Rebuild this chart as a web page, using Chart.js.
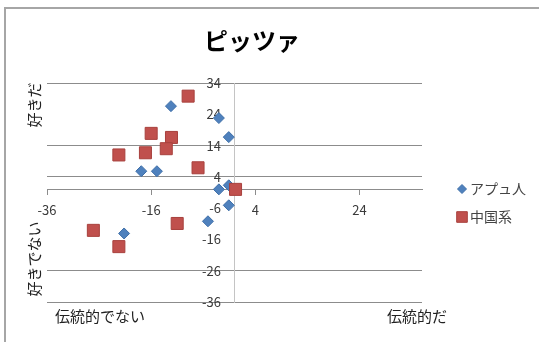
<!DOCTYPE html>
<html>
<head>
<meta charset="utf-8">
<script src="https://cdn.jsdelivr.net/npm/chart.js@4/dist/chart.umd.min.js"></script>
<style>
    html, body { margin: 0; padding: 0; background: #fff; }
    #wrap { position: relative; width: 539px; height: 342px; overflow: hidden; }
    #frame {
        position: absolute; left: 4px; top: 7px; right: -10px; bottom: -10px;
        border-left: 2px solid #a6a6a6; border-top: 2px solid #a6a6a6;
    }
    canvas { position: absolute; left: 0; top: 0; }
</style>
</head>
<body>
<div id="wrap">
    <div id="frame"></div>
    <canvas id="chart" width="539" height="342"></canvas>
</div>
<script>
// --- Data ---
const TITLE = 'ピッツァ';
const SERIES_NAMES = ['アプュ人', '中国系'];

const asiaX = [-12.2, -3.0, -1.1, -17.9, -14.9, -3.0, -1.1, -1.1, -5.1, -21.2];
const asiaY = [26.6, 22.8, 16.7, 5.8, 5.8, 0, 1.3, -5.1, -10.2, -14.1];

const chinaX = [-8.9, -16.0, -12.1, -13.1, -17.1, -22.2, -7.0, 0.2, -11.0, -27.1, -22.2];
const chinaY = [29.8, 17.9, 16.6, 13.0, 11.7, 11.0, 6.9, 0, -10.9, -13.1, -18.3];

const xTicks = [-36, -16, 4, 24];
const yTicks = [-36, -26, -16, -6, 4, 14, 24, 34];
const yNoGrid = [24, -6, -16];

const AXIS_TEXT = {
    top: '好きだ',
    bottom: '好きでない',
    left: '伝統的でない',
    right: '伝統的だ'
};

// --- Styles ---
const COLORS = {
    blue: '#4f81bd',
    blueEdge: '#3f6fa8',
    red: '#c0504d',
    redEdge: '#a8403d',
    grid: '#8c8c8c',
    yAxis: '#c4c4c4',
    text: '#3a3a3a'
};
const FONT = '"Noto Sans CJK JP", "Noto Sans", sans-serif';

function toPoints(xs, ys) {
    return xs.map((x, i) => ({ x: x, y: ys[i] }));
}

function setTicks(values) {
    return s => { s.ticks = values.map(v => ({ value: v })); };
}

// Title, side captions + legend drawn on top of the chart
const decorPlugin = {
    id: 'decor',
    afterDraw(chart) {
        const ctx = chart.ctx;
        ctx.save();
        ctx.textBaseline = 'middle';
        ctx.textAlign = 'center';

        ctx.fillStyle = '#000';
        ctx.font = 'bold 24px ' + FONT;
        ctx.fillText(TITLE, 252, 41);

        ctx.fillStyle = '#222';
        ctx.font = '15px ' + FONT;

        // vertical captions
        ctx.save();
        ctx.translate(34, 105);
        ctx.rotate(-Math.PI / 2);
        ctx.fillText(AXIS_TEXT.top, 0, 0);
        ctx.restore();

        ctx.save();
        ctx.translate(34, 259);
        ctx.rotate(-Math.PI / 2);
        ctx.fillText(AXIS_TEXT.bottom, 0, 0);
        ctx.restore();

        ctx.fillText(AXIS_TEXT.left, 100, 316);
        ctx.fillText(AXIS_TEXT.right, 417, 316);

        // legend
        const rows = [
            { ds: chart.data.datasets[0], y: 189 },
            { ds: chart.data.datasets[1], y: 217 }
        ];
        ctx.textAlign = 'left';
        ctx.font = '14px ' + FONT;
        rows.forEach(r => {
            ctx.fillStyle = r.ds.backgroundColor;
            ctx.strokeStyle = r.ds.borderColor;
            ctx.lineWidth = 1;
            const r0 = r.ds.pointStyle === 'rect' ? 7.5 : 4.5;
            Chart.helpers.drawPoint(ctx, { pointStyle: r.ds.pointStyle, radius: r0, borderWidth: 1 }, 462, r.y);
            ctx.fillStyle = '#444';
            ctx.fillText(r.ds.label, 470, r.y);
        });
        ctx.restore();
    }
};

new Chart(document.getElementById('chart'), {
    type: 'scatter',
    data: {
        datasets: [{
            label: SERIES_NAMES[0],
            data: toPoints(asiaX, asiaY),
            pointStyle: 'rectRot',
            pointRadius: 5.5,
            pointHoverRadius: 5.5,
            backgroundColor: COLORS.blue,
            borderColor: COLORS.blueEdge,
            borderWidth: 1,
            order: 1
        }, {
            label: SERIES_NAMES[1],
            data: toPoints(chinaX, chinaY),
            pointStyle: 'rect',
            pointRadius: 8.5,
            pointHoverRadius: 8.5,
            backgroundColor: COLORS.red,
            borderColor: COLORS.redEdge,
            borderWidth: 1,
            order: 0
        }]
    },
    options: {
        responsive: false,
        animation: false,
        layout: { padding: { left: 47, right: 117, top: 83, bottom: 40 } },
        plugins: {
            legend: { display: false },
            tooltip: { enabled: false },
            title: { display: false }
        },
        scales: {
            x: {
                type: 'linear',
                min: -36,
                max: 36,
                position: { y: 0 },
                afterBuildTicks: setTicks(xTicks),
                grid: {
                    display: true,
                    drawOnChartArea: false,
                    drawTicks: true,
                    tickLength: 5,
                    tickColor: COLORS.grid
                },
                border: { display: true, color: COLORS.grid, width: 1 },
                ticks: {
                    color: COLORS.text,
                    padding: 8,
                    maxRotation: 0,
                    font: { family: FONT, size: 13 }
                }
            },
            y: {
                type: 'linear',
                min: -36,
                max: 34,
                position: { x: 0 },
                afterBuildTicks: setTicks(yTicks),
                grid: {
                    drawTicks: false,
                    color: ctx => (ctx.tick && yNoGrid.includes(ctx.tick.value)) ? 'rgba(0,0,0,0)' : COLORS.grid
                },
                border: { display: true, color: COLORS.yAxis, width: 1 },
                ticks: { display: false }
            },
            // label-only axis, set a little left of the y axis line
            yLabels: {
                type: 'linear',
                axis: 'y',
                min: -36,
                max: 34,
                position: { x: -2.6 },
                afterBuildTicks: setTicks(yTicks),
                grid: { display: false },
                border: { display: false },
                ticks: {
                    color: COLORS.text,
                    font: { family: FONT, size: 13 }
                }
            }
        }
    },
    plugins: [decorPlugin]
});
</script>
</body>
</html>
